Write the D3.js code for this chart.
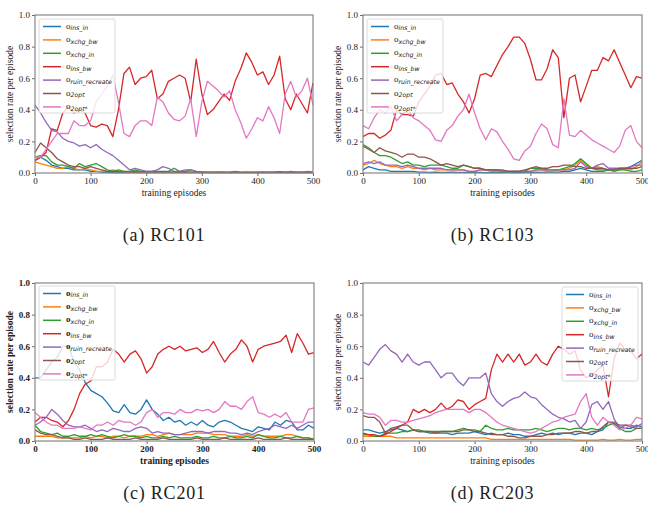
<!DOCTYPE html>
<html>
<head>
<meta charset="utf-8">
<script src="https://cdn.jsdelivr.net/npm/d3@7"></script>
<style>
body { margin: 0; background: #fff; }
</style>
</head>
<body>
<svg id="chart" width="648" height="516"></svg>
<script>
// x grid: one reading every 10 training episodes
const episodes = d3.range(0, 501, 10);
const operators = ["ins_in", "xchg_bw", "xchg_in", "ins_bw", "ruin_recreate", "2opt", "2opt*"];
const colors = ["#1f77b4", "#ff7f0e", "#2ca02c", "#d62728", "#9467bd", "#8c564b", "#e377c2"];
const xTicks = [0, 100, 200, 300, 400, 500];
const yTicks = [0, 0.2, 0.4, 0.6, 0.8, 1.0];
const captions = ["(a) RC101", "(b) RC103", "(c) RC201", "(d) RC203"];

// ---- RC101
const rc101InsIn = [0.08,0.10,0.08,0.05,0.04,0.03,0.03,0.02,0.02,0.02,
	0.01,0.01,0.005,0.004,0.003,0.003,0.004,0.003,0.003,0.003,
	0.003,0.003,0.003,0.003,0.003,0.003,0.003,0.003,0.003,0.003,
	0.003,0.003,0.003,0.003,0.003,0.003,0.003,0.003,0.003,0.003,
	0.003,0.003,0.003,0.003,0.003,0.003,0.003,0.003,0.003,0.003,0.003];
const rc101XchgBw = [0.07,0.06,0.05,0.04,0.03,0.03,0.04,0.03,0.02,0.03,
	0.02,0.01,0.01,0.01,0.02,0.01,0.01,0.006,0.008,0.005,
	0.006,0.005,0.005,0.006,0.005,0.005,0.004,0.006,0.005,0.004,
	0.004,0.004,0.003,0.004,0.003,0.004,0.003,0.003,0.004,0.003,
	0.003,0.004,0.003,0.003,0.004,0.003,0.003,0.003,0.004,0.003,0.003];
const rc101XchgIn = [0.10,0.11,0.11,0.07,0.05,0.05,0.04,0.03,0.06,0.04,
	0.05,0.06,0.04,0.02,0.01,0.02,0.01,0.01,0.02,0.01,
	0.01,0.01,0.01,0.01,0.01,0.03,0.01,0.01,0.02,0.01,
	0.005,0.004,0.004,0.005,0.004,0.004,0.005,0.004,0.004,0.004,
	0.004,0.005,0.004,0.004,0.004,0.005,0.004,0.004,0.004,0.004,0.004];
const rc101InsBw = [0.08,0.10,0.13,0.28,0.27,0.38,0.42,0.38,0.40,0.38,
	0.30,0.29,0.31,0.30,0.23,0.40,0.63,0.67,0.56,0.60,
	0.61,0.65,0.47,0.50,0.58,0.60,0.62,0.60,0.45,0.72,
	0.50,0.37,0.40,0.45,0.50,0.46,0.58,0.66,0.76,0.70,
	0.62,0.64,0.56,0.62,0.74,0.47,0.40,0.50,0.44,0.38,0.57];
const rc101Ruin = [0.43,0.38,0.32,0.27,0.26,0.22,0.20,0.19,0.17,0.18,
	0.16,0.18,0.15,0.13,0.11,0.08,0.05,0.02,0.03,0.02,
	0.01,0.01,0.02,0.04,0.03,0.01,0.01,0.02,0.02,0.01,
	0.005,0.005,0.004,0.005,0.004,0.005,0.01,0.005,0.004,0.005,
	0.004,0.005,0.004,0.005,0.004,0.005,0.01,0.005,0.004,0.01,0.005];
const rc1012opt = [0.13,0.19,0.16,0.13,0.09,0.07,0.05,0.04,0.04,0.03,
	0.04,0.03,0.02,0.01,0.01,0.008,0.006,0.006,0.008,0.006,
	0.006,0.005,0.006,0.008,0.006,0.005,0.005,0.006,0.005,0.005,
	0.005,0.004,0.005,0.004,0.005,0.004,0.005,0.004,0.005,0.004,
	0.005,0.004,0.006,0.005,0.008,0.005,0.004,0.006,0.005,0.004,0.005];
const rc1012optStar = [0.10,0.10,0.15,0.20,0.25,0.25,0.25,0.33,0.30,0.30,
	0.33,0.45,0.50,0.55,0.62,0.45,0.25,0.23,0.30,0.33,
	0.33,0.30,0.48,0.45,0.38,0.34,0.33,0.36,0.47,0.23,
	0.45,0.58,0.55,0.52,0.48,0.52,0.40,0.32,0.22,0.28,
	0.35,0.33,0.42,0.35,0.25,0.50,0.58,0.48,0.52,0.60,0.43];

// ---- RC103
const rc103InsIn = [0.02,0.04,0.03,0.02,0.02,0.01,0.01,0.01,0.01,0.01,
	0.005,0.005,0.004,0.005,0.004,0.004,0.005,0.004,0.004,0.004,
	0.004,0.004,0.003,0.004,0.003,0.003,0.004,0.003,0.003,0.004,
	0.004,0.005,0.004,0.005,0.005,0.006,0.01,0.01,0.02,0.03,
	0.02,0.01,0.01,0.01,0.02,0.02,0.02,0.03,0.04,0.06,0.08];
const rc103XchgBw = [0.05,0.06,0.08,0.06,0.05,0.04,0.04,0.03,0.04,0.03,
	0.03,0.02,0.03,0.02,0.02,0.02,0.02,0.02,0.02,0.01,
	0.01,0.02,0.02,0.01,0.01,0.01,0.01,0.01,0.01,0.01,
	0.01,0.02,0.02,0.01,0.01,0.02,0.02,0.03,0.05,0.08,
	0.05,0.03,0.04,0.03,0.02,0.02,0.03,0.02,0.02,0.04,0.07];
const rc103XchgIn = [0.18,0.16,0.13,0.11,0.11,0.10,0.08,0.06,0.07,0.05,
	0.05,0.04,0.05,0.05,0.05,0.04,0.03,0.03,0.05,0.04,
	0.03,0.03,0.02,0.02,0.02,0.01,0.01,0.01,0.01,0.01,
	0.03,0.03,0.03,0.02,0.02,0.02,0.03,0.04,0.06,0.09,
	0.06,0.03,0.02,0.02,0.02,0.01,0.02,0.02,0.01,0.01,0.02];
const rc103InsBw = [0.23,0.25,0.25,0.22,0.24,0.27,0.40,0.37,0.37,0.36,
	0.45,0.50,0.55,0.62,0.63,0.56,0.57,0.50,0.45,0.38,
	0.47,0.62,0.63,0.61,0.68,0.75,0.80,0.86,0.86,0.82,
	0.72,0.59,0.59,0.66,0.78,0.73,0.35,0.60,0.62,0.45,
	0.55,0.65,0.65,0.73,0.71,0.78,0.70,0.62,0.54,0.61,0.60];
const rc103Ruin = [0.06,0.07,0.06,0.07,0.05,0.05,0.05,0.04,0.05,0.04,
	0.03,0.03,0.03,0.03,0.03,0.02,0.02,0.02,0.02,0.01,
	0.01,0.02,0.02,0.02,0.02,0.01,0.01,0.01,0.01,0.01,
	0.01,0.02,0.02,0.02,0.02,0.02,0.02,0.02,0.03,0.07,
	0.04,0.03,0.05,0.06,0.03,0.03,0.03,0.03,0.04,0.05,0.05];
const rc1032opt = [0.17,0.15,0.13,0.16,0.14,0.13,0.12,0.10,0.12,0.12,
	0.10,0.10,0.09,0.07,0.05,0.06,0.05,0.04,0.05,0.04,
	0.03,0.03,0.02,0.02,0.02,0.02,0.01,0.01,0.01,0.02,
	0.03,0.04,0.03,0.03,0.04,0.04,0.05,0.05,0.04,0.04,
	0.03,0.03,0.03,0.03,0.02,0.02,0.03,0.03,0.03,0.03,0.04];
const rc1032optStar = [0.30,0.28,0.35,0.40,0.38,0.42,0.33,0.37,0.40,0.35,
	0.33,0.30,0.27,0.21,0.20,0.27,0.30,0.36,0.40,0.50,
	0.38,0.28,0.21,0.28,0.26,0.20,0.15,0.09,0.08,0.14,
	0.17,0.25,0.31,0.28,0.18,0.16,0.47,0.24,0.23,0.27,
	0.24,0.21,0.19,0.17,0.15,0.13,0.17,0.27,0.30,0.20,0.16];

// ---- RC201
const rc201InsIn = [0.40,0.40,0.45,0.50,0.53,0.60,0.60,0.50,0.45,0.37,
	0.32,0.30,0.28,0.24,0.19,0.18,0.23,0.18,0.17,0.20,
	0.26,0.20,0.17,0.13,0.15,0.12,0.13,0.10,0.12,0.10,
	0.13,0.10,0.09,0.12,0.13,0.12,0.10,0.08,0.07,0.06,
	0.09,0.08,0.07,0.12,0.10,0.13,0.12,0.07,0.07,0.10,0.08];
const rc201XchgBw = [0.03,0.03,0.03,0.03,0.02,0.02,0.02,0.02,0.02,0.03,
	0.02,0.03,0.03,0.02,0.03,0.03,0.02,0.03,0.03,0.03,
	0.04,0.04,0.03,0.04,0.05,0.04,0.04,0.04,0.04,0.05,
	0.05,0.05,0.04,0.04,0.04,0.03,0.03,0.03,0.04,0.03,
	0.04,0.03,0.03,0.03,0.03,0.04,0.04,0.03,0.02,0.02,0.01];
const rc201XchgIn = [0.10,0.06,0.05,0.04,0.05,0.03,0.03,0.04,0.03,0.03,
	0.04,0.03,0.04,0.03,0.02,0.03,0.04,0.03,0.03,0.02,
	0.03,0.02,0.02,0.03,0.02,0.03,0.02,0.02,0.02,0.03,
	0.02,0.02,0.03,0.02,0.02,0.03,0.02,0.02,0.03,0.02,
	0.04,0.03,0.02,0.02,0.03,0.02,0.02,0.03,0.02,0.02,0.01];
const rc201InsBw = [0.12,0.15,0.15,0.13,0.12,0.09,0.13,0.20,0.30,0.36,
	0.38,0.47,0.47,0.50,0.58,0.55,0.50,0.55,0.57,0.52,
	0.43,0.47,0.55,0.58,0.60,0.58,0.60,0.57,0.58,0.59,
	0.56,0.58,0.63,0.56,0.50,0.55,0.58,0.64,0.60,0.50,
	0.58,0.60,0.61,0.62,0.63,0.67,0.56,0.68,0.62,0.55,0.56];
const rc201Ruin = [0.10,0.12,0.15,0.20,0.17,0.13,0.10,0.09,0.09,0.10,
	0.08,0.06,0.07,0.06,0.08,0.07,0.06,0.06,0.08,0.09,
	0.08,0.05,0.06,0.05,0.05,0.04,0.04,0.05,0.06,0.06,
	0.06,0.05,0.06,0.06,0.06,0.05,0.05,0.04,0.05,0.04,
	0.06,0.07,0.08,0.10,0.09,0.08,0.10,0.08,0.10,0.12,0.12];
const rc2012opt = [0.07,0.05,0.04,0.04,0.03,0.02,0.02,0.01,0.01,0.02,
	0.01,0.01,0.01,0.02,0.01,0.01,0.01,0.01,0.02,0.01,
	0.01,0.01,0.01,0.02,0.01,0.01,0.01,0.01,0.01,0.02,
	0.01,0.01,0.01,0.01,0.02,0.01,0.01,0.01,0.01,0.01,
	0.02,0.01,0.01,0.01,0.01,0.02,0.01,0.01,0.01,0.01,0.01];
const rc2012optStar = [0.18,0.15,0.12,0.10,0.10,0.08,0.08,0.08,0.09,0.08,
	0.07,0.10,0.10,0.12,0.10,0.13,0.12,0.12,0.10,0.12,
	0.18,0.20,0.15,0.18,0.18,0.17,0.20,0.18,0.18,0.20,
	0.19,0.20,0.18,0.20,0.25,0.22,0.22,0.20,0.25,0.28,
	0.18,0.17,0.15,0.17,0.15,0.18,0.12,0.12,0.12,0.20,0.21];

// ---- RC203
const rc203InsIn = [0.07,0.07,0.06,0.05,0.06,0.07,0.08,0.07,0.06,0.07,
	0.06,0.06,0.05,0.05,0.05,0.05,0.04,0.05,0.05,0.05,
	0.06,0.05,0.04,0.05,0.04,0.04,0.05,0.04,0.04,0.03,
	0.03,0.04,0.05,0.04,0.05,0.04,0.05,0.05,0.04,0.05,
	0.05,0.04,0.06,0.07,0.12,0.11,0.09,0.08,0.08,0.10,0.09];
const rc203XchgBw = [0.03,0.03,0.03,0.03,0.03,0.03,0.02,0.02,0.02,0.02,
	0.02,0.02,0.02,0.02,0.02,0.02,0.02,0.02,0.02,0.02,
	0.02,0.02,0.02,0.01,0.01,0.01,0.01,0.01,0.01,0.01,
	0.01,0.01,0.01,0.01,0.01,0.01,0.01,0.01,0.005,0.005,
	0.005,0.005,0.005,0.01,0.005,0.005,0.01,0.005,0.005,0.01,0.01];
const rc203XchgIn = [0.04,0.04,0.03,0.03,0.05,0.05,0.05,0.06,0.06,0.07,
	0.07,0.06,0.06,0.06,0.06,0.06,0.06,0.07,0.08,0.07,
	0.07,0.06,0.10,0.08,0.07,0.07,0.08,0.07,0.07,0.07,
	0.07,0.08,0.07,0.06,0.07,0.08,0.08,0.07,0.08,0.08,
	0.07,0.08,0.07,0.08,0.10,0.11,0.08,0.06,0.06,0.08,0.08];
const rc203InsBw = [0.05,0.04,0.04,0.03,0.04,0.06,0.08,0.10,0.12,0.20,
	0.18,0.20,0.18,0.20,0.24,0.20,0.22,0.26,0.25,0.20,
	0.23,0.25,0.27,0.45,0.55,0.50,0.55,0.50,0.55,0.48,
	0.50,0.55,0.50,0.48,0.55,0.60,0.58,0.55,0.57,0.45,
	0.40,0.42,0.45,0.48,0.28,0.52,0.62,0.58,0.57,0.52,0.55];
const rc203Ruin = [0.50,0.48,0.53,0.58,0.61,0.57,0.55,0.50,0.55,0.50,
	0.48,0.50,0.50,0.45,0.40,0.43,0.43,0.38,0.35,0.40,
	0.40,0.40,0.43,0.30,0.25,0.22,0.25,0.27,0.28,0.31,
	0.28,0.27,0.23,0.20,0.17,0.15,0.14,0.12,0.13,0.08,
	0.12,0.23,0.25,0.20,0.25,0.14,0.08,0.10,0.10,0.09,0.11];
const rc2032opt = [0.16,0.15,0.15,0.12,0.05,0.08,0.09,0.10,0.10,0.07,
	0.06,0.06,0.06,0.05,0.06,0.06,0.06,0.06,0.07,0.07,
	0.06,0.06,0.05,0.04,0.04,0.04,0.03,0.03,0.02,0.02,
	0.03,0.03,0.03,0.04,0.04,0.05,0.05,0.05,0.06,0.06,
	0.05,0.06,0.06,0.09,0.12,0.12,0.10,0.10,0.09,0.08,0.08];
const rc2032optStar = [0.18,0.17,0.17,0.15,0.10,0.13,0.13,0.12,0.12,0.13,
	0.14,0.15,0.16,0.18,0.19,0.20,0.20,0.20,0.20,0.18,
	0.20,0.20,0.18,0.15,0.12,0.10,0.09,0.08,0.07,0.06,
	0.05,0.06,0.08,0.10,0.12,0.13,0.15,0.16,0.17,0.25,
	0.30,0.15,0.10,0.15,0.12,0.10,0.07,0.08,0.10,0.15,0.14];

const rc101 = [rc101InsIn, rc101XchgBw, rc101XchgIn, rc101InsBw, rc101Ruin, rc1012opt, rc1012optStar];
const rc103 = [rc103InsIn, rc103XchgBw, rc103XchgIn, rc103InsBw, rc103Ruin, rc1032opt, rc1032optStar];
const rc201 = [rc201InsIn, rc201XchgBw, rc201XchgIn, rc201InsBw, rc201Ruin, rc2012opt, rc2012optStar];
const rc203 = [rc203InsIn, rc203XchgBw, rc203XchgIn, rc203InsBw, rc203Ruin, rc2032opt, rc2032optStar];

const panels = [
	{series: rc101, caption: captions[0], x0: 35, x1: 313, y0: 15, y1: 173, legend: "left", bold: false, capY: 241},
	{series: rc103, caption: captions[1], x0: 363, x1: 642, y0: 15, y1: 173, legend: "left", bold: false, capY: 241},
	{series: rc201, caption: captions[2], x0: 35, x1: 314, y0: 283, y1: 441, legend: "left", bold: true, capY: 499},
	{series: rc203, caption: captions[3], x0: 363, x1: 642, y0: 283, y1: 441, legend: "right", bold: false, capY: 499}
];

const serif = "'Liberation Serif', 'Times New Roman', serif";
const svg = d3.select("#chart");
svg.append("rect").attr("width", 648).attr("height", 516).attr("fill", "#fff");

function drawPanel(p) {
	const xScale = d3.scaleLinear().domain([0, 500]).range([p.x0, p.x1]);
	const yScale = d3.scaleLinear().domain([0, 1]).range([p.y1, p.y0]);
	const weight = p.bold ? "bold" : "normal";

	const line = d3.line()
		.x((d, i) => xScale(episodes[i]))
		.y(d => yScale(d));

	const g = svg.append("g");

	g.selectAll("path.series")
		.data(p.series)
		.join("path")
		.attr("class", "series")
		.attr("fill", "none")
		.attr("stroke", (d, i) => colors[i])
		.attr("stroke-width", 1.3)
		.attr("stroke-linejoin", "round")
		.attr("d", line);

	// axes
	const xAxis = g.append("g")
		.attr("transform", `translate(0,${p.y1})`)
		.call(d3.axisBottom(xScale).tickValues(xTicks).tickSize(3).tickPadding(2).tickFormat(d3.format("d")));
	const yAxis = g.append("g")
		.attr("transform", `translate(${p.x0},0)`)
		.call(d3.axisLeft(yScale).tickValues(yTicks).tickSize(3).tickPadding(2).tickFormat(d3.format(".1f")));

	[xAxis, yAxis].forEach(ax => {
		ax.select(".domain").remove();
		ax.selectAll(".tick line").attr("stroke", "#444").attr("stroke-width", 0.8);
		ax.selectAll(".tick text")
			.attr("fill", "#222")
			.style("font-family", serif)
			.style("font-size", "9px")
			.style("font-weight", weight);
	});

	g.append("rect")
		.attr("x", p.x0).attr("y", p.y0)
		.attr("width", p.x1 - p.x0).attr("height", p.y1 - p.y0)
		.attr("fill", "none")
		.attr("stroke", "#888")
		.attr("stroke-width", 1.2);

	g.append("text")
		.attr("x", (p.x0 + p.x1) / 2)
		.attr("y", p.y1 + 23)
		.attr("text-anchor", "middle")
		.attr("fill", "#222")
		.style("font-family", serif)
		.style("font-size", "9.5px")
		.style("font-weight", weight)
		.text("training episodes");

	g.append("text")
		.attr("transform", `translate(${p.x0 - 22},${(p.y0 + p.y1) / 2}) rotate(-90)`)
		.attr("text-anchor", "middle")
		.attr("fill", "#222")
		.style("font-family", serif)
		.style("font-size", "9.5px")
		.style("font-weight", weight)
		.text("selection rate per episode");

	// legend
	const lw = 76, lh = 94, rowH = 13.4;
	const lx = p.legend === "left" ? p.x0 + 4 : p.x1 - 4 - lw;
	const ly = p.y0 + (p.bold ? 3 : 4);
	const leg = g.append("g").attr("transform", `translate(${lx},${ly})`);
	leg.append("rect")
		.attr("width", lw).attr("height", lh).attr("rx", 2)
		.attr("fill", "#fff").attr("fill-opacity", 0.8)
		.attr("stroke", "#d0d0d0").attr("stroke-width", 0.8);

	const rows = leg.selectAll("g.row")
		.data(operators)
		.join("g")
		.attr("class", "row")
		.attr("transform", (d, i) => `translate(0,${7.5 + i * rowH})`);
	rows.append("line")
		.attr("x1", 4).attr("x2", 22)
		.attr("stroke", (d, i) => colors[i])
		.attr("stroke-width", 1.5);
	const label = rows.append("text")
		.attr("x", 27).attr("y", 2)
		.attr("fill", "#222");
	label.append("tspan")
		.style("font-family", serif)
		.style("font-size", "9px")
		.style("font-weight", weight)
		.text("o");
	label.append("tspan")
		.attr("dy", 1.8)
		.style("font-family", "'DejaVu Sans', sans-serif")
		.style("font-style", "italic")
		.style("font-size", "6.2px")
		.text(d => d);

	svg.append("text")
		.attr("x", (p.x0 + p.x1) / 2 - 10)
		.attr("y", p.capY)
		.attr("text-anchor", "middle")
		.attr("fill", "#222")
		.style("font-family", serif)
		.style("font-size", "18px")
		.style("letter-spacing", "0.8px")
		.text(p.caption);
}

panels.forEach(drawPanel);
</script>
</body>
</html>
